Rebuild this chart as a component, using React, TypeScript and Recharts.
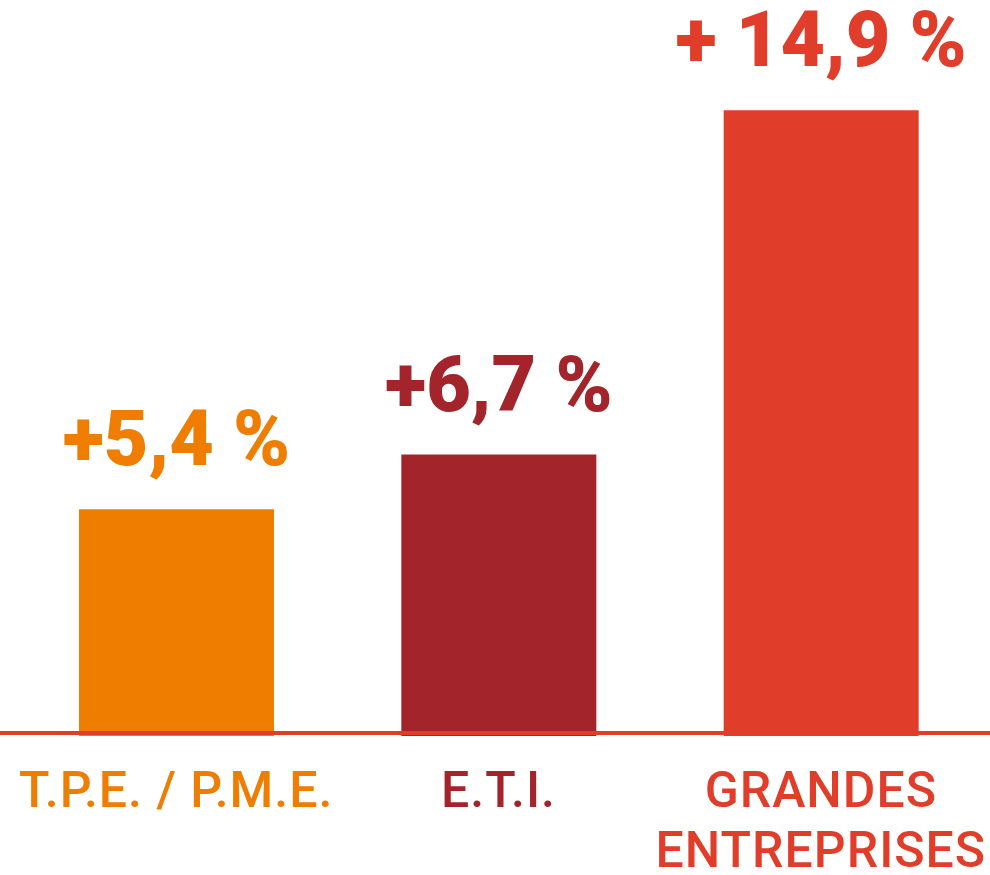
import React from 'react';
import { BarChart, Bar, XAxis, YAxis, Cell, LabelList } from 'recharts';

const categories = ['T.P.E. / P.M.E.', 'E.T.I.', 'GRANDES ENTREPRISES'];
const categoryLines = [['T.P.E. / P.M.E.'], ['E.T.I.'], ['GRANDES', 'ENTREPRISES']];
const values = [5.4, 6.7, 14.9];
const valueLabels = ['+5,4 %', '+6,7 %', '+ 14,9 %'];
const colors = ['#EF7D00', '#A3252B', '#E03D2A'];

const data = categories.map((name, i) => ({ name, value: values[i] }));

const CategoryTick = (props: any) => {
  const { x, y, payload } = props;
  const i = payload.index;
  return (
    <text
      x={x}
      y={y + 71}
      textAnchor="middle"
      fill={colors[i]}
      fontFamily="Roboto, sans-serif"
      fontWeight={500}
      fontSize={50}
      letterSpacing={1}
    >
      {categoryLines[i].map((line, k) => (
        <tspan key={k} x={x} dy={k === 0 ? 0 : 60}>
          {line}
        </tspan>
      ))}
    </text>
  );
};

const ValueLabel = (props: any) => {
  const { x, y, width, index } = props;
  return (
    <text
      x={x + width / 2}
      y={y - 44}
      textAnchor="middle"
      fill={colors[index]}
      fontFamily="Roboto, sans-serif"
      fontWeight={900}
      fontSize={77}
    >
      {valueLabels[index]}
    </text>
  );
};

const App: React.FC = () => {
  return (
    <div style={{ position: 'absolute', left: 0, top: 0, width: 990, height: 875, background: '#fff' }}>
      <BarChart width={990} height={875} data={data} margin={{ top: 64, right: 0, bottom: 0, left: 0 }}>
        <YAxis hide domain={[0, 16]} />
        <Bar dataKey="value" barSize={195} isAnimationActive={false}>
          {data.map((d, i) => (
            <Cell key={d.name} fill={colors[i]} />
          ))}
          <LabelList dataKey="value" content={<ValueLabel />} />
        </Bar>
        <XAxis
          dataKey="name"
          height={139}
          padding={{ left: 15, right: 8 }}
          tickLine={false}
          tickSize={0}
          tickMargin={0}
          interval={0}
          axisLine={{ stroke: '#E03D2A', strokeWidth: 4, transform: 'translate(0,-3)' }}
          tick={<CategoryTick />}
        />
      </BarChart>
    </div>
  );
};

export default App;
